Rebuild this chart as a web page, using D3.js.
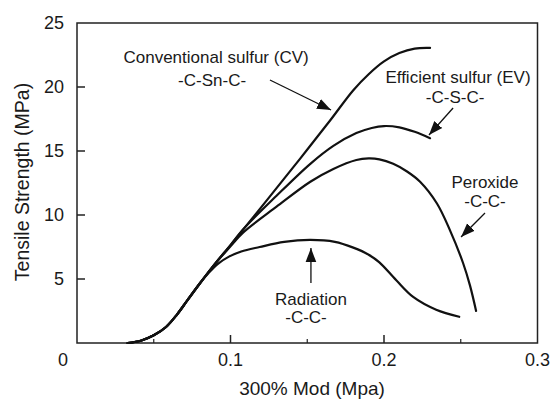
<!DOCTYPE html>
<html>
<head>
<meta charset="utf-8">
<script src="https://cdn.jsdelivr.net/npm/d3@7"></script>
<style>
  body { margin: 0; background: #fff; }
  text { font-family: "Liberation Sans", Arial, sans-serif; fill: #1a1a1a; }
</style>
</head>
<body>
<div id="chart"></div>
<script>
// shared initial rise (all four curves overlap here)
var baseX = [0.033, 0.042, 0.05, 0.058, 0.065, 0.072, 0.08];
var baseY = [0, 0.2, 0.6, 1.25, 2.2, 3.35, 4.65];

var cvX = [0.09, 0.1, 0.124, 0.145, 0.165, 0.18, 0.19, 0.2, 0.21, 0.22, 0.23];
var cvY = [6.2, 7.65, 11.2, 14.35, 17.4, 19.75, 21.0, 22.0, 22.65, 23.0, 23.05];

var evX = [0.09, 0.1, 0.108, 0.13, 0.152, 0.167, 0.182, 0.192, 0.2, 0.21, 0.22, 0.23];
var evY = [6.2, 7.65, 8.85, 11.5, 14.0, 15.4, 16.4, 16.8, 16.95, 16.85, 16.5, 16.0];

var pxX = [0.09, 0.1, 0.108, 0.13, 0.152, 0.167, 0.182, 0.19, 0.197, 0.206, 0.215, 0.2235, 0.2345, 0.243, 0.2515, 0.256, 0.26];
var pxY = [6.2, 7.55, 8.6, 10.65, 12.6, 13.6, 14.3, 14.42, 14.35, 14.0, 13.4, 12.6, 10.9, 8.8, 6.25, 4.5, 2.5];

var radX = [0.086, 0.092, 0.099, 0.107, 0.119, 0.135, 0.152, 0.168, 0.18, 0.19, 0.197, 0.208, 0.219, 0.234, 0.249];
var radY = [5.5, 6.2, 6.75, 7.15, 7.5, 7.9, 8.05, 7.9, 7.45, 6.9, 6.3, 4.9, 3.6, 2.6, 2.05];

var xMajor = [0, 0.1, 0.2, 0.3];
var xMinor = [0.05, 0.15, 0.25];
var yTicks = [5, 10, 15, 20, 25];

// annotation labels and arrows (data coordinates)
var labels = [
  { x: 0.0906, y: 21.9, t: "Conventional sulfur (CV)" },
  { x: 0.088,  y: 20.1, t: "-C-Sn-C-" },
  { x: 0.2482, y: 20.3, t: "Efficient sulfur (EV)" },
  { x: 0.2463, y: 18.75, t: "-C-S-C-" },
  { x: 0.2658, y: 12.1, t: "Peroxide" },
  { x: 0.2658, y: 10.6, t: "-C-C-" },
  { x: 0.1524, y: 2.95, t: "Radiation" },
  { x: 0.1492, y: 1.6,  t: "-C-C-" }
];
var arrows = [
  [0.1257, 20.55, 0.1655, 18.2],
  [0.245, 18.36, 0.2293, 16.25],
  [0.2658, 10.16, 0.2502, 8.28],
  [0.1524, 4.69, 0.1524, 7.42]
];

const width = 553, height = 401;
const svg = d3.select("#chart").append("svg")
  .attr("width", width)
  .attr("height", height);

const x = d3.scaleLinear().domain([0, 0.3]).range([77, 537.5]);
const y = d3.scaleLinear().domain([0, 25]).range([343, 23]);

svg.append("defs").append("marker")
  .attr("id", "head")
  .attr("viewBox", "0 0 10 10")
  .attr("refX", 10).attr("refY", 5)
  .attr("markerWidth", 14).attr("markerHeight", 14)
  .attr("markerUnits", "userSpaceOnUse")
  .attr("orient", "auto")
  .append("path")
  .attr("d", "M0,1.2 L10,5 L0,8.8 Z")
  .attr("fill", "#111");

// frame
svg.append("rect")
  .attr("x", x(0)).attr("y", y(25))
  .attr("width", x(0.3) - x(0)).attr("height", y(0) - y(25))
  .attr("fill", "none").attr("stroke", "#222").attr("stroke-width", 1.5);

// x ticks (inward)
svg.selectAll(".xmaj").data(xMajor.slice(1, 3)).enter().append("line")
  .attr("x1", d => x(d)).attr("x2", d => x(d))
  .attr("y1", y(0)).attr("y2", y(0) - 8)
  .attr("stroke", "#222").attr("stroke-width", 1.5);
svg.selectAll(".xmin").data(xMinor).enter().append("line")
  .attr("x1", d => x(d)).attr("x2", d => x(d))
  .attr("y1", y(0)).attr("y2", y(0) - 4)
  .attr("stroke", "#222").attr("stroke-width", 1.2);

svg.selectAll(".xlab").data(xMajor).enter().append("text")
  .attr("x", d => d === 0 ? x(d) - 14 : x(d))
  .attr("y", 366)
  .attr("text-anchor", "middle")
  .style("font-size", "18px")
  .text(d => d === 0 ? "0" : d3.format(".1f")(d));

// y ticks (inward)
svg.selectAll(".ytk").data(yTicks.slice(0, 4)).enter().append("line")
  .attr("x1", x(0)).attr("x2", x(0) + 8)
  .attr("y1", d => y(d)).attr("y2", d => y(d))
  .attr("stroke", "#222").attr("stroke-width", 1.5);

svg.selectAll(".ylab").data(yTicks).enter().append("text")
  .attr("x", 64)
  .attr("y", d => y(d))
  .attr("dy", "0.35em")
  .attr("text-anchor", "end")
  .style("font-size", "18px")
  .text(d => d);

// axis titles
svg.append("text")
  .attr("x", 312).attr("y", 395)
  .attr("text-anchor", "middle")
  .style("font-size", "19px")
  .text("300% Mod (Mpa)");

svg.append("text")
  .attr("transform", "translate(29," + 182 + ") rotate(-90)")
  .attr("text-anchor", "middle")
  .style("font-size", "19.5px")
  .text("Tensile Strength (MPa)");

// curves
const line = d3.line()
  .x(d => x(d[0]))
  .y(d => y(d[1]))
  .curve(d3.curveCatmullRom.alpha(0.5));

function series(xs, ys) {
  return baseX.map((v, i) => [v, baseY[i]]).concat(xs.map((v, i) => [v, ys[i]]));
}

[[radX, radY], [pxX, pxY], [evX, evY], [cvX, cvY]].forEach(function (s) {
  svg.append("path")
    .datum(series(s[0], s[1]))
    .attr("d", line)
    .attr("fill", "none")
    .attr("stroke", "#111")
    .attr("stroke-width", 2.2)
    .attr("stroke-linecap", "round");
});

// annotations
svg.selectAll(".ann").data(labels).enter().append("text")
  .attr("x", d => x(d.x))
  .attr("y", d => y(d.y))
  .attr("text-anchor", "middle")
  .style("font-size", "17px")
  .text(d => d.t);

svg.selectAll(".arr").data(arrows).enter().append("line")
  .attr("x1", d => x(d[0])).attr("y1", d => y(d[1]))
  .attr("x2", d => x(d[2])).attr("y2", d => y(d[3]))
  .attr("stroke", "#111").attr("stroke-width", 1.3)
  .attr("marker-end", "url(#head)");
</script>
</body>
</html>
